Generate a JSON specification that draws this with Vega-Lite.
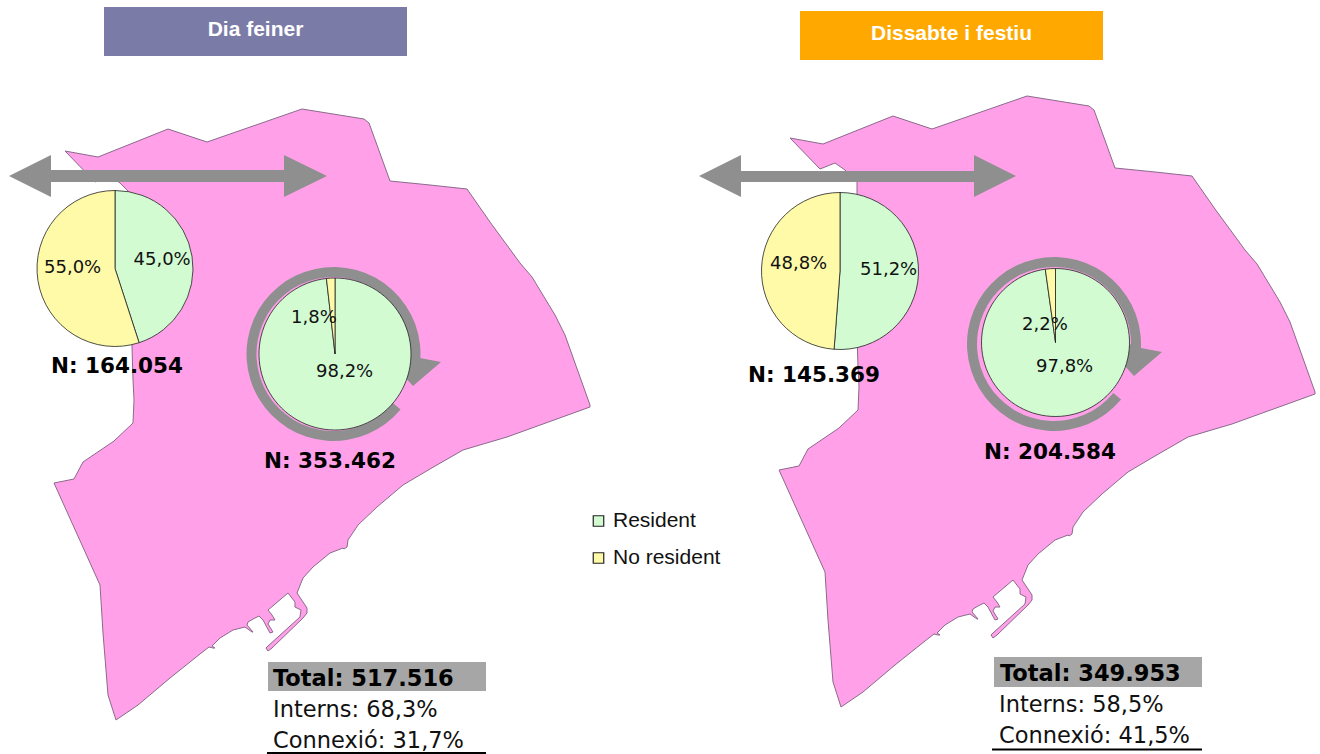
{
"$schema":"https://vega.github.io/schema/vega-lite/v6.json",
"width":1320,"height":754,"padding":0,"autosize":{"type":"none"},
"background":"white",
"config":{"view":{"stroke":null}},
"layer":[
{"data":{"values":[{"type":"Feature","properties":{"name":"Dia feiner"},"geometry":{"type":"Polygon","coordinates":[[[65,151],[98,157],[168,129],[207,142],[302,109],[364,119],[369,123],[390,181],[430,185],[467,189],[490,222],[520,263],[532,277],[555,315],[565,335],[590,405],[590,407],[507,437],[490,442],[463,450],[430,469],[403,485],[377,507],[358,525],[348,540],[347,547],[344,549],[343,548],[330,553],[313,567],[303,578],[297,593],[307,608],[307,613],[303,618],[272,648],[268,651],[266,648],[268,646],[300,617],[301,610],[295,607],[295,602],[288,593],[268,610],[272,615],[275,620],[270,620],[268,624],[273,632],[270,633],[263,620],[259,616],[253,619],[248,622],[247,625],[253,632],[252,632],[245,627],[233,630],[220,638],[212,646],[215,648],[213,648],[209,647],[200,654],[170,678],[138,705],[116,720],[108,695],[103,633],[100,585],[54,483],[74,479],[83,462],[114,441],[133,423],[134,400],[133,380],[132,347],[132,195],[120,183],[110,176],[95,182],[65,151]]]}},
{"type":"Feature","properties":{"name":"Dissabte i festiu"},"geometry":{"type":"Polygon","coordinates":[[[790,138],[823,144],[893,116],[932,129],[1027,96],[1089,106],[1094,110],[1115,168],[1155,172],[1192,176],[1215,209],[1245,250],[1257,264],[1280,302],[1290,322],[1315,392],[1315,394],[1232,424],[1215,429],[1188,437],[1155,456],[1128,472],[1102,494],[1083,512],[1073,527],[1072,534],[1069,536],[1068,535],[1055,540],[1038,554],[1028,565],[1022,580],[1032,595],[1032,600],[1028,605],[997,635],[993,638],[991,635],[993,633],[1025,604],[1026,597],[1020,594],[1020,589],[1013,580],[993,597],[997,602],[1000,607],[995,607],[993,611],[998,619],[995,620],[988,607],[984,603],[978,606],[973,609],[972,612],[978,619],[977,619],[970,614],[958,617],[945,625],[937,633],[940,635],[938,635],[934,634],[925,641],[895,665],[863,692],[841,707],[833,682],[828,620],[825,572],[779,470],[799,466],[808,449],[839,428],[858,410],[859,387],[858,367],[857,334],[857,182],[845,170],[835,163],[820,169],[790,138]]]}}]},
"projection":{"type":"identity","scale":1,"translate":[0,0],"fit":false},
"mark":{"type":"geoshape","fill":"#FFA0E8","stroke":"#8A6A8C","strokeWidth":1},"encoding":{}},
{"data":{"values":[{"type":"Feature","properties":{"name":"flux dia feiner"},"geometry":{"type":"Polygon","coordinates":[[[9,176],[51,155],[51,170],[284,170],[284,155],[327,176],[284,197],[284,182],[51,182],[51,197],[9,176]]]}},
{"type":"Feature","properties":{"name":"flux festiu"},"geometry":{"type":"Polygon","coordinates":[[[699,176],[741,155],[741,171],[974,171],[974,155],[1016,176],[974,197],[974,182],[741,182],[741,197],[699,176]]]}},
{"type":"Feature","properties":{"name":"gir dia feiner"},"geometry":{"type":"Polygon","coordinates":[[[403,352],[420,358],[441,362],[413,386],[403,375],[403,352]]]}},
{"type":"Feature","properties":{"name":"gir festiu"},"geometry":{"type":"Polygon","coordinates":[[[1124,342],[1141,348],[1162,352],[1134,376],[1124,365],[1124,342]]]}}]},
"projection":{"type":"identity","scale":1,"translate":[0,0],"fit":false},
"mark":{"type":"geoshape","fill":"#8F8F8F","stroke":null},"encoding":{}},
{"data":{"values":[{"name":"gir dia feiner","x":333.5,"y":354,"start":-64,"end":27},{"name":"gir festiu","x":1054,"y":344,"start":-64,"end":27}]},
"mark":{"type":"arc","innerRadius":77,"outerRadius":87,"fill":"#8F8F8F"},
"encoding":{"x":{"field":"x","type":"quantitative","scale":{"domain":[0,1320]},"axis":null},"y":{"field":"y","type":"quantitative","scale":{"domain":[0,754],"reverse":true},"axis":null},"theta":{"field":"start","type":"quantitative","stack":null,"scale":{"domain":[0,100],"range":[0,6.2832]}},"theta2":{"field":"end"}}},
{"data":{"name":"pieA","values":[{"group":"Resident","x":115,"y":268.5,"start":0,"end":45},{"group":"No resident","x":115,"y":268.5,"start":45,"end":100}]},
"mark":{"type":"arc","outerRadius":78,"stroke":"#222222","strokeWidth":0.8},
"encoding":{"x":{"field":"x","type":"quantitative","scale":{"domain":[0,1320]},"axis":null},"y":{"field":"y","type":"quantitative","scale":{"domain":[0,754],"reverse":true},"axis":null},"theta":{"field":"start","type":"quantitative","stack":null,"scale":{"domain":[0,100],"range":[0,6.2832]}},"theta2":{"field":"end"},
"color":{"field":"group","type":"nominal","scale":{"domain":["Resident","No resident"],"range":["#D2FBD2","#FFFAA8"]},"legend":{"title":null,"orient":"none","legendX":588,"legendY":509,"symbolType":"square","symbolSize":110,"labelFont":"Liberation Sans","labelFontSize":21,"labelColor":"#111111","rowPadding":13,"labelOffset":4,"symbolStrokeColor":"#222222","symbolStrokeWidth":1.2,"clipHeight":24}}}},
{"data":{"values":[{"group":"Resident","x":335,"y":354,"start":0,"end":98.2},{"group":"No resident","x":335,"y":354,"start":98.2,"end":100}]},
"mark":{"type":"arc","outerRadius":76,"stroke":"#222222","strokeWidth":0.8},
"encoding":{"x":{"field":"x","type":"quantitative","scale":{"domain":[0,1320]},"axis":null},"y":{"field":"y","type":"quantitative","scale":{"domain":[0,754],"reverse":true},"axis":null},"theta":{"field":"start","type":"quantitative","stack":null,"scale":{"domain":[0,100],"range":[0,6.2832]}},"theta2":{"field":"end"},"color":{"field":"group","type":"nominal"}}},
{"data":{"values":[{"group":"Resident","x":840,"y":271,"start":0,"end":51.2},{"group":"No resident","x":840,"y":271,"start":51.2,"end":100}]},
"mark":{"type":"arc","outerRadius":78.5,"stroke":"#222222","strokeWidth":0.8},
"encoding":{"x":{"field":"x","type":"quantitative","scale":{"domain":[0,1320]},"axis":null},"y":{"field":"y","type":"quantitative","scale":{"domain":[0,754],"reverse":true},"axis":null},"theta":{"field":"start","type":"quantitative","stack":null,"scale":{"domain":[0,100],"range":[0,6.2832]}},"theta2":{"field":"end"},"color":{"field":"group","type":"nominal"}}},
{"data":{"values":[{"group":"Resident","x":1055.5,"y":342.5,"start":0,"end":97.8},{"group":"No resident","x":1055.5,"y":342.5,"start":97.8,"end":100}]},
"mark":{"type":"arc","outerRadius":74,"stroke":"#222222","strokeWidth":0.8},
"encoding":{"x":{"field":"x","type":"quantitative","scale":{"domain":[0,1320]},"axis":null},"y":{"field":"y","type":"quantitative","scale":{"domain":[0,754],"reverse":true},"axis":null},"theta":{"field":"start","type":"quantitative","stack":null,"scale":{"domain":[0,100],"range":[0,6.2832]}},"theta2":{"field":"end"},"color":{"field":"group","type":"nominal"}}},
{"data":{"values":[{"x":104,"x2":407,"y":7,"y2":56}]},"mark":{"type":"rect","fill":"#7B7BA8"},
"encoding":{"x":{"field":"x","type":"quantitative","scale":{"domain":[0,1320]},"axis":null},"x2":{"field":"x2"},"y":{"field":"y","type":"quantitative","scale":{"domain":[0,754],"reverse":true},"axis":null},"y2":{"field":"y2"}}},
{"data":{"values":[{"x":800,"x2":1103,"y":11,"y2":60}]},"mark":{"type":"rect","fill":"#FFA900"},
"encoding":{"x":{"field":"x","type":"quantitative","scale":{"domain":[0,1320]},"axis":null},"x2":{"field":"x2"},"y":{"field":"y","type":"quantitative","scale":{"domain":[0,754],"reverse":true},"axis":null},"y2":{"field":"y2"}}},
{"data":{"values":[{"x":268,"x2":486,"y":662,"y2":691},{"x":994,"x2":1202,"y":657,"y2":687}]},"mark":{"type":"rect","fill":"#A6A6A6"},
"encoding":{"x":{"field":"x","type":"quantitative","scale":{"domain":[0,1320]},"axis":null},"x2":{"field":"x2"},"y":{"field":"y","type":"quantitative","scale":{"domain":[0,754],"reverse":true},"axis":null},"y2":{"field":"y2"}}},
{"data":{"values":[{"x":267,"x2":486,"y":753},{"x":992,"x2":1202,"y":749.5}]},"mark":{"type":"rule","stroke":"#000000","strokeWidth":2},
"encoding":{"x":{"field":"x","type":"quantitative","scale":{"domain":[0,1320]},"axis":null},"x2":{"field":"x2"},"y":{"field":"y","type":"quantitative","scale":{"domain":[0,754],"reverse":true},"axis":null}}},
{"data":{"values":[{"t":"Dia feiner","x":255.5,"y":36},{"t":"Dissabte i festiu","x":951.5,"y":40}]},
"mark":{"type":"text","font":"Liberation Sans","fontWeight":"bold","fontSize":21,"fill":"#FFFFFF","align":"center","baseline":"alphabetic"},
"encoding":{"x":{"field":"x","type":"quantitative","scale":{"domain":[0,1320]},"axis":null},"y":{"field":"y","type":"quantitative","scale":{"domain":[0,754],"reverse":true},"axis":null},"text":{"field":"t"}}},
{"data":{"values":[{"t":"45,0%","x":133.5,"y":265},{"t":"55,0%","x":44,"y":273},{"t":"1,8%","x":291,"y":322.5},{"t":"98,2%","x":316,"y":377},{"t":"48,8%","x":770,"y":269},{"t":"51,2%","x":860,"y":275},{"t":"2,2%","x":1022,"y":330},{"t":"97,8%","x":1036,"y":372}]},
"mark":{"type":"text","font":"DejaVu Sans","fontSize":18,"fill":"#111111","align":"left","baseline":"alphabetic"},
"encoding":{"x":{"field":"x","type":"quantitative","scale":{"domain":[0,1320]},"axis":null},"y":{"field":"y","type":"quantitative","scale":{"domain":[0,754],"reverse":true},"axis":null},"text":{"field":"t"}}},
{"data":{"values":[{"t":"N: 164.054","x":51,"y":373},{"t":"N: 353.462","x":264,"y":468},{"t":"N: 145.369","x":748,"y":382},{"t":"N: 204.584","x":984,"y":459}]},
"mark":{"type":"text","font":"DejaVu Sans","fontWeight":"bold","fontSize":21.5,"fill":"#000000","align":"left","baseline":"alphabetic"},
"encoding":{"x":{"field":"x","type":"quantitative","scale":{"domain":[0,1320]},"axis":null},"y":{"field":"y","type":"quantitative","scale":{"domain":[0,754],"reverse":true},"axis":null},"text":{"field":"t"}}},
{"data":{"values":[{"t":"Total: 517.516","x":273,"y":686},{"t":"Total: 349.953","x":1000,"y":681}]},
"mark":{"type":"text","font":"DejaVu Sans","fontWeight":"bold","fontSize":22.5,"fill":"#000000","align":"left","baseline":"alphabetic"},
"encoding":{"x":{"field":"x","type":"quantitative","scale":{"domain":[0,1320]},"axis":null},"y":{"field":"y","type":"quantitative","scale":{"domain":[0,754],"reverse":true},"axis":null},"text":{"field":"t"}}},
{"data":{"values":[{"t":"Interns: 68,3%","x":273,"y":717},{"t":"Connexió: 31,7%","x":273,"y":748},{"t":"Interns: 58,5%","x":999,"y":712},{"t":"Connexió: 41,5%","x":999,"y":743}]},
"mark":{"type":"text","font":"DejaVu Sans","fontSize":22.5,"fill":"#111111","align":"left","baseline":"alphabetic"},
"encoding":{"x":{"field":"x","type":"quantitative","scale":{"domain":[0,1320]},"axis":null},"y":{"field":"y","type":"quantitative","scale":{"domain":[0,754],"reverse":true},"axis":null},"text":{"field":"t"}}}
]
}
